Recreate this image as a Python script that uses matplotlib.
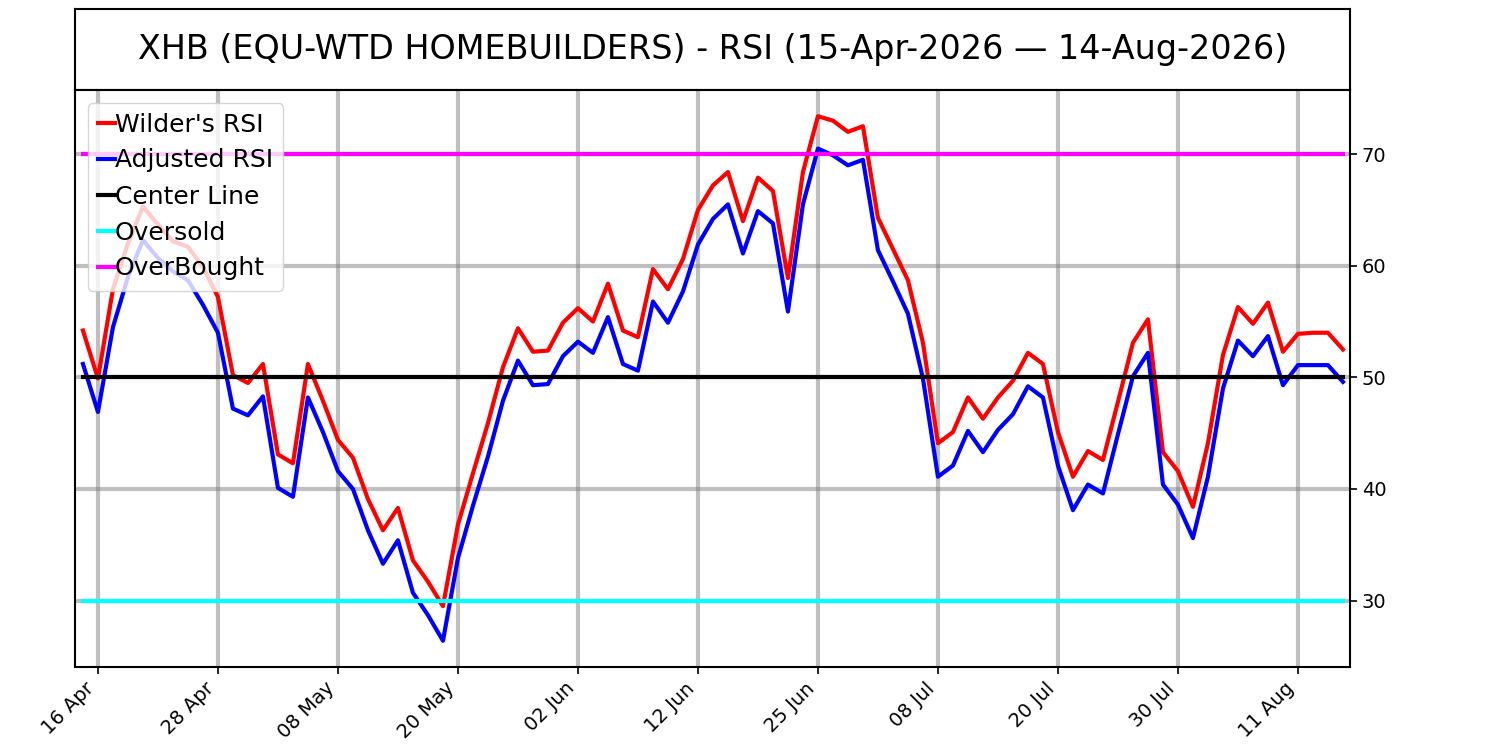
import matplotlib
matplotlib.use("Agg")
import matplotlib.pyplot as plt
import numpy as np
import pandas as pd

# Trading days (US market holidays excluded)
start_date = "2026-04-15"
end_date = "2026-08-14"
holidays = ["2026-05-25", "2026-06-19", "2026-07-03"]

wilder_rsi = [54.2, 49.9, 57.9, 62.0, 65.3, 63.7, 62.2, 61.7, 59.9, 57.2,
              50.2, 49.5, 51.2, 43.1, 42.3, 51.2, 47.9, 44.4, 42.8, 39.1,
              36.3, 38.3, 33.6, 31.7, 29.5, 36.8, 41.4, 45.9, 50.9, 54.4,
              52.3, 52.4, 54.9, 56.2, 55.0, 58.4, 54.2, 53.6, 59.7, 57.9,
              60.6, 65.0, 67.2, 68.4, 64.0, 67.9, 66.7, 58.9, 68.4, 73.4,
              73.0, 72.0, 72.5, 64.3, 61.5, 58.7, 53.1, 44.1, 45.1, 48.2,
              46.3, 48.2, 49.7, 52.2, 51.2, 45.1, 41.1, 43.4, 42.6, 47.8,
              53.1, 55.2, 43.3, 41.6, 38.4, 44.1, 52.0, 56.3, 54.8, 56.7,
              52.3, 53.9, 54.0, 54.0, 52.5]

adjusted_rsi = [51.2, 46.9, 54.5, 59.0, 62.3, 60.7, 59.5, 58.7, 56.5, 54.0,
                47.2, 46.6, 48.3, 40.1, 39.3, 48.2, 45.1, 41.6, 40.0, 36.3,
                33.3, 35.4, 30.7, 28.7, 26.4, 33.8, 38.5, 42.9, 47.9, 51.5,
                49.3, 49.4, 51.9, 53.2, 52.2, 55.4, 51.2, 50.6, 56.8, 54.9,
                57.7, 61.9, 64.2, 65.5, 61.1, 64.9, 63.8, 55.9, 65.5, 70.5,
                69.9, 69.0, 69.5, 61.4, 58.6, 55.7, 49.9, 41.1, 42.1, 45.2,
                43.3, 45.3, 46.7, 49.2, 48.2, 42.1, 38.1, 40.4, 39.6, 44.9,
                50.1, 52.2, 40.4, 38.6, 35.6, 41.1, 49.0, 53.3, 51.9, 53.7,
                49.3, 51.1, 51.1, 51.1, 49.6]

center_level = 50
oversold_level = 30
overbought_level = 70

title_text = "XHB (EQU-WTD HOMEBUILDERS) - RSI (15-Apr-2026 \u2014 14-Aug-2026)"

dates = pd.bdate_range(start_date, end_date, freq="C", holidays=holidays)
n = len(wilder_rsi)
dates = dates[:n]
x = np.arange(n)

fig = plt.figure(figsize=(15, 7.5), dpi=100)

# Title panel
tax = fig.add_axes([0.05, 0.88, 0.85, 0.108])
tax.set_xticks([])
tax.set_yticks([])
for s in tax.spines.values():
    s.set_linewidth(1.5)
tax.text(0.5, 0.5, title_text, ha="center", va="center", fontsize=24,
         transform=tax.transAxes)

ax = fig.add_axes([0.05, 0.11067, 0.85, 0.76933])
ax.plot(x, wilder_rsi, color="red", lw=3, label="Wilder's RSI")
ax.plot(x, adjusted_rsi, color="blue", lw=3, label="Adjusted RSI")
ax.plot(x, [center_level] * n, color="black", lw=3, label="Center Line")
ax.plot(x, [oversold_level] * n, color="cyan", lw=3, label="Oversold")
ax.plot(x, [overbought_level] * n, color="magenta", lw=3, label="OverBought")

ax.set_xlim(-0.53, n - 1 + 0.47)
tick_idx = list(range(1, n, 8))
ax.set_xticks(tick_idx)
ax.set_xticklabels([dates[i].strftime("%d %b") for i in tick_idx],
                   rotation=45, ha="right", fontsize=14)
ax.set_yticks([30, 40, 50, 60, 70])
ax.yaxis.tick_right()
ax.tick_params(axis="y", labelsize=14, length=5, width=1.2)
ax.tick_params(axis="x", length=5, width=1.2)
ax.grid(True, color="gray", alpha=0.5, lw=3)
ax.set_axisbelow(True)
for s in ax.spines.values():
    s.set_linewidth(1.5)

ax.legend(loc="upper left", fontsize=18, handlelength=0.7,
          handletextpad=0.0, labelspacing=0.48, borderaxespad=0.5)

fig.savefig("out.png", dpi=100)
